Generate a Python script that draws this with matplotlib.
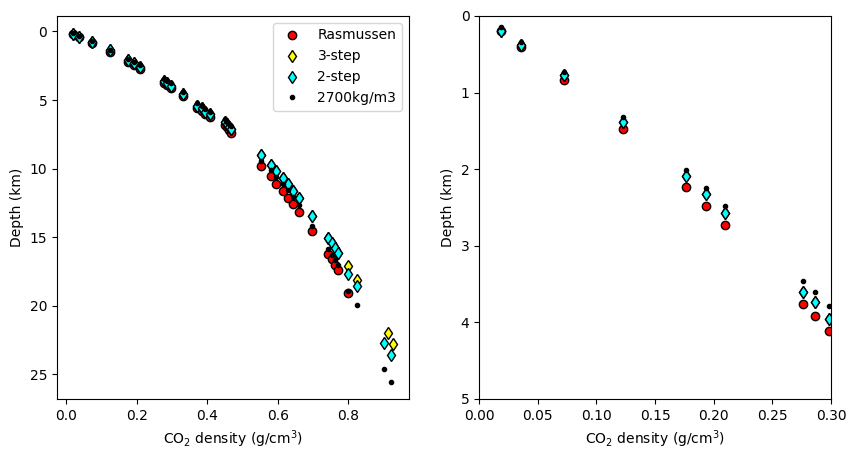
import numpy as np
import matplotlib
matplotlib.use("Agg")
from matplotlib import pyplot as plt

nan = np.nan

# CO2 density (g/cm3) of each sample
density = [0.019, 0.036, 0.072, 0.123, 0.176, 0.193, 0.210, 0.2765, 0.286, 0.298,
           0.330, 0.372, 0.384, 0.395, 0.408, 0.450, 0.456, 0.462, 0.468,
           0.553, 0.580, 0.595, 0.614, 0.629, 0.645, 0.661, 0.697,
           0.742, 0.753, 0.762, 0.772, 0.800, 0.824, 0.903, 0.921]
density_3step = density[:33] + [0.913, 0.927]

# depths (km) from each method
rasmussen = [0.20, 0.40, 0.83, 1.48, 2.23, 2.48, 2.73, 3.76, 3.92, 4.11,
             4.72, 5.60, 5.80, 6.05, 6.25, 6.85, 7.00, 7.20, 7.40,
             9.80, 10.53, 11.09, 11.67, 12.15, 12.59, 13.20, 14.57,
             16.20, 16.60, 17.00, 17.40, 19.07, nan, nan, nan]
two_step = [0.19, 0.38, 0.77, 1.38, 2.09, 2.33, 2.57, 3.60, 3.74, 3.95,
            4.53, 5.40, 5.60, 5.85, 6.05, 6.62, 6.77, 6.95, 7.12,
            9.00, 9.73, 10.17, 10.70, 11.13, 11.62, 12.15, 13.43,
            15.06, 15.45, 15.78, 16.14, 17.70, 18.60, 22.76, 23.60]
three_step = [0.19, 0.38, 0.77, 1.38, 2.09, 2.33, 2.57, 3.60, 3.74, 3.95,
              4.53, 5.40, 5.60, 5.85, 6.05, 6.62, 6.77, 6.95, 7.12,
              9.00, 9.73, 10.17, 10.70, 11.13, 11.62, 12.15, 13.43,
              15.06, 15.45, 15.78, 16.14, 17.14, 18.16, 22.03, 22.80]
crust2700 = [0.14, 0.34, 0.725, 1.32, 2.01, 2.24, 2.48, 3.46, 3.60, 3.79,
             4.38, 5.22, 5.42, 5.65, 5.85, 6.42, 6.57, 6.75, 6.90,
             9.45, 10.10, 10.60, 11.15, 11.60, 12.10, 12.65, 14.16,
             15.90, 16.30, 16.70, 17.00, 18.90, 19.97, 24.64, 25.54]


def draw(ax):
    ax.plot(density, rasmussen, 'o', color='red', mec='black', label='Rasmussen')
    ax.plot(density_3step, three_step, 'd', color='yellow', mec='black', label='3-step')
    ax.plot(density, two_step, 'd', color='cyan', mec='black', label='2-step')
    ax.plot(density, crust2700, '.', color='black', label='2700kg/m3')
    ax.set_xlabel('CO$_2$ density (g/cm$^3$)')
    ax.set_ylabel('Depth (km)')


fig, (ax1, ax2) = plt.subplots(1, 2, figsize=(8.57, 4.61), dpi=100)
fig.subplots_adjust(left=0.0665, right=0.9697, top=0.9653, bottom=0.1345, wspace=0.2)

draw(ax1)
ax1.invert_yaxis()
ax1.legend(loc='upper right')

draw(ax2)
ax2.set_xlim(0, 0.3)
ax2.set_ylim(5, 0)

fig.savefig('out.png')
